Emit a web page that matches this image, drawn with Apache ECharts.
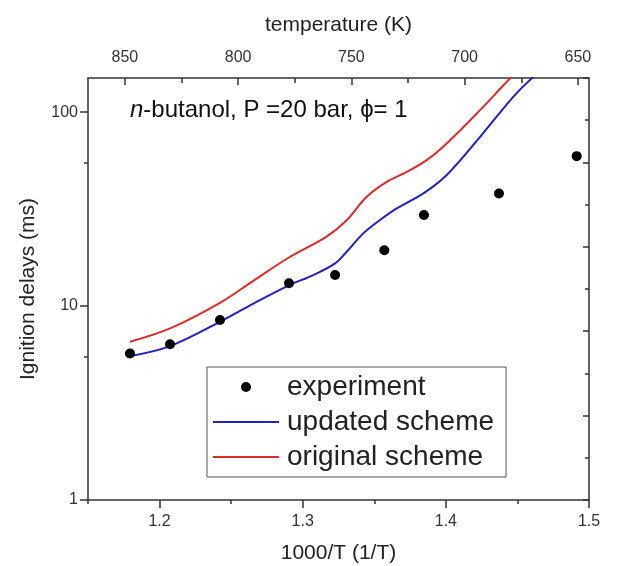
<!DOCTYPE html>
<html>
<head>
<meta charset="utf-8">
<title>n-butanol ignition delays</title>
<script src="https://cdn.jsdelivr.net/npm/echarts@6/dist/echarts.min.js"></script>
<style>
  html, body { margin: 0; padding: 0; background: #fff; }
  #chart { width: 628px; height: 566px; }
</style>
</head>
<body>
<div id="chart"></div>
<script>
// Measured ignition delays: 1000/T and delay (ms)
const expInvT  = [1.1793, 1.2073, 1.2422, 1.2904, 1.3226, 1.357, 1.3847, 1.4371, 1.4914];
const expDelay = [5.70, 6.35, 8.47, 13.1, 14.45, 19.4, 29.5, 38.1, 59.3];

// Updated kinetic scheme simulation
const updInvT  = [1.1793, 1.2073, 1.2422, 1.2655, 1.2904, 1.3074, 1.3226, 1.3307, 1.3423, 1.354, 1.3657, 1.3843, 1.4006, 1.4239, 1.4471, 1.4611];
const updDelay = [5.52, 6.22, 8.3, 10.3, 12.8, 14.45, 16.6, 19.05, 23.7, 27.8, 31.9, 38.1, 47.4, 74.6, 120, 152];

// Original kinetic scheme simulation
const orgInvT  = [1.1793, 1.2073, 1.2422, 1.2655, 1.2904, 1.3167, 1.3307, 1.3447, 1.3587, 1.3727, 1.3866, 1.4006, 1.4239, 1.4448, 1.455];
const orgDelay = [6.55, 7.67, 10.4, 13.5, 17.8, 22.8, 27.7, 36.6, 43.7, 49.2, 56.6, 69.0, 102.4, 149, 175];

// Tick positions
const invTMajor = [1.2, 1.3, 1.4, 1.5];
const invTMinor = [1.15, 1.25, 1.35, 1.45];
const tempMajor = [850, 800, 750, 700, 650];
const tempMinor = [825, 775, 725, 675];
const delayMajor = [1, 10, 100];
const delayMinor = [5.5, 55];

const FONT = "'Liberation Sans', Arial, Helvetica, sans-serif";
const AXIS_COLOR = '#333';
const BLUE = '#2020c8';
const RED = '#e02a2a';

const zip = (xs, ys) => xs.map((x, i) => [x, ys[i]]);

const lineStyle = { color: AXIS_COLOR, width: 1.5 };
const labelStyle = { fontSize: 16, color: '#333', fontFamily: FONT };
const nameStyle = { fontSize: 21, color: '#222', fontFamily: FONT };

const chart = echarts.init(document.getElementById('chart'), null, { renderer: 'canvas' });

chart.setOption({
  animation: false,
  backgroundColor: '#fff',
  textStyle: { fontFamily: FONT },
  grid: { left: 88, right: 39, top: 78, bottom: 66, containLabel: false, outerBoundsMode: 'none' },
  xAxis: [
    {
      type: 'value', position: 'bottom', min: 1.15, max: 1.5,
      name: '1000/T (1/T)', nameLocation: 'middle', nameGap: 43, nameTextStyle: nameStyle,
      axisLine: { show: true, onZero: false, lineStyle },
      axisTick: { show: true, inside: false, length: 8, customValues: invTMajor, lineStyle },
      axisLabel: { customValues: invTMajor, margin: 14, formatter: v => v.toFixed(1), ...labelStyle },
      splitLine: { show: false }
    },
    {
      type: 'value', position: 'bottom', min: 1.15, max: 1.5,
      axisLine: { show: false },
      axisTick: { show: true, inside: false, length: 4, customValues: invTMinor, lineStyle },
      axisLabel: { show: false },
      splitLine: { show: false }
    },
    {
      type: 'value', position: 'top', min: 645.1, max: 866.3, inverse: true,
      name: 'temperature (K)', nameLocation: 'middle', nameGap: 42, nameTextStyle: nameStyle,
      axisLine: { show: true, onZero: false, lineStyle },
      axisTick: { show: true, inside: true, length: 7, customValues: tempMajor, lineStyle },
      axisLabel: { customValues: tempMajor, margin: 12, formatter: v => String(v), ...labelStyle },
      splitLine: { show: false }
    },
    {
      type: 'value', position: 'top', min: 645.1, max: 866.3, inverse: true,
      axisLine: { show: false },
      axisTick: { show: true, inside: true, length: 5, customValues: tempMinor, lineStyle },
      axisLabel: { show: false },
      splitLine: { show: false }
    }
  ],
  yAxis: [
    {
      type: 'log', logBase: 10, min: 1, max: 150, position: 'left',
      name: 'Ignition delays (ms)', nameLocation: 'middle', nameGap: 49, nameRotate: 90,
      nameTextStyle: nameStyle,
      axisLine: { show: true, onZero: false, lineStyle },
      axisTick: { show: true, inside: false, length: 8, customValues: delayMajor, lineStyle },
      axisLabel: { customValues: delayMajor, margin: 10, formatter: v => String(Math.round(v)), ...labelStyle },
      minorTick: { show: false },
      splitLine: { show: false }
    },
    {
      type: 'log', logBase: 10, min: 1, max: 150, position: 'left',
      axisLine: { show: false },
      axisTick: { show: true, inside: false, length: 4, customValues: delayMinor, lineStyle },
      axisLabel: { show: false },
      splitLine: { show: false }
    },
    {
      type: 'value', min: 0, max: 5, interval: 1, position: 'right',
      axisLine: { show: true, onZero: false, lineStyle },
      axisTick: { show: true, inside: true, length: 6, lineStyle },
      minorTick: { show: true, splitNumber: 2, length: 4, lineStyle },
      axisLabel: { show: false },
      splitLine: { show: false }
    }
  ],
  legend: {
    orient: 'vertical', left: 207, top: 367,
    padding: [6, 12, 6, 5], itemGap: 7, itemWidth: 66, itemHeight: 10,
    borderColor: '#555', borderWidth: 1, backgroundColor: '#fff',
    selectedMode: false,
    textStyle: { fontSize: 28, color: '#222', fontFamily: FONT, padding: [0, 0, 0, 3] },
    data: [
      { name: 'experiment' },
      { name: 'updated scheme', itemStyle: { opacity: 0 } },
      { name: 'original scheme', itemStyle: { opacity: 0 } }
    ]
  },
  graphic: [
    {
      type: 'text', left: 130, top: 98, z: 10,
      style: {
        text: '{i|n}-butanol, P =20 bar, ϕ= 1',
        fontSize: 24, fontFamily: FONT, fill: '#111',
        rich: { i: { fontStyle: 'italic', fontSize: 24, fontFamily: FONT, fill: '#111' } }
      }
    }
  ],
  series: [
    {
      name: 'experiment', type: 'scatter', xAxisIndex: 0, yAxisIndex: 0,
      data: zip(expInvT, expDelay), symbol: 'circle', symbolSize: 10,
      itemStyle: { color: '#000', opacity: 1 }, z: 5
    },
    {
      name: 'updated scheme', type: 'line', xAxisIndex: 0, yAxisIndex: 0,
      data: zip(updInvT, updDelay), symbol: 'none', smooth: 0.35,
      lineStyle: { color: BLUE, width: 2 }, itemStyle: { color: BLUE }, clip: true
    },
    {
      name: 'original scheme', type: 'line', xAxisIndex: 0, yAxisIndex: 0,
      data: zip(orgInvT, orgDelay), symbol: 'none', smooth: 0.35,
      lineStyle: { color: RED, width: 2 }, itemStyle: { color: RED }, clip: true
    }
  ]
});
</script>
</body>
</html>
